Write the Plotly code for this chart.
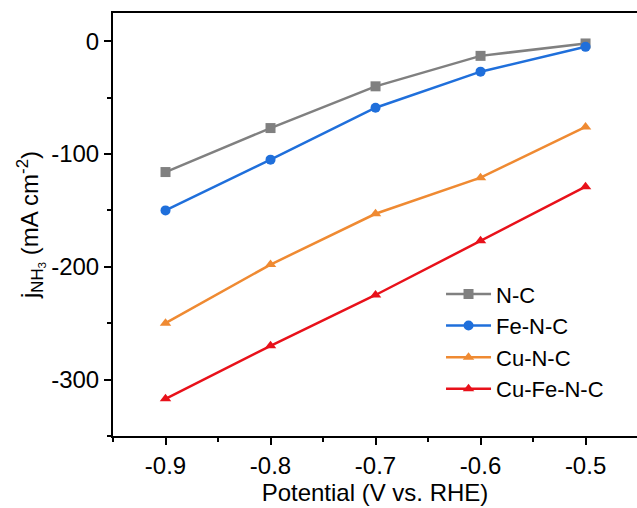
import plotly.graph_objects as go

# Applied potential (V vs. RHE)
potential = [-0.9, -0.8, -0.7, -0.6, -0.5]

# Ammonia partial current density (mA cm^-2) per catalyst
j_nc = [-116, -77, -40, -13, -2]
j_fenc = [-150, -105, -59, -27, -5]
j_cunc = [-250, -198, -153, -121, -76]
j_cufenc = [-317, -270, -225, -177, -129]

series = [
    ("N-C", j_nc, "#808080", "square"),
    ("Fe-N-C", j_fenc, "#1f6fdb", "circle"),
    ("Cu-N-C", j_cunc, "#ef8a32", "triangle-up"),
    ("Cu-Fe-N-C", j_cufenc, "#e8111a", "triangle-up"),
]

FONT = "Liberation Sans, Arial, sans-serif"

fig = go.Figure()
for name, vals, color, sym in series:
    fig.add_trace(go.Scatter(
        x=potential, y=vals, name=name, mode="lines+markers",
        line=dict(color=color, width=2.5),
        marker=dict(symbol=sym, size=10, color=color),
    ))

fig.update_layout(
    width=637, height=508,
    margin=dict(l=113, r=0, t=13, b=72),
    paper_bgcolor="white", plot_bgcolor="white",
    font=dict(family=FONT, size=24, color="black"),
    showlegend=True,
    legend=dict(
        x=0.626, y=0.385, xanchor="left", yanchor="top",
        bgcolor="rgba(0,0,0,0)", font=dict(size=22),
        itemwidth=45, tracegroupgap=0,
    ),
)

fig.update_xaxes(
    range=[-0.95, -0.451], tickvals=[-0.9, -0.8, -0.7, -0.6, -0.5],
    ticktext=["-0.9", "-0.8", "-0.7", "-0.6", "-0.5"],
    showline=True, linewidth=2, linecolor="black", mirror=True,
    ticks="outside", ticklen=7, tickwidth=2, tickcolor="black",
    minor=dict(tickvals=[-0.95, -0.85, -0.75, -0.65, -0.55, -0.45],
               ticks="outside", ticklen=4, tickwidth=2, tickcolor="black"),
    showgrid=False, zeroline=False,
    title=dict(text="Potential (V vs. RHE)", font=dict(size=24), standoff=2),
)

fig.update_yaxes(
    range=[-350, 25], tickvals=[0, -100, -200, -300],
    ticktext=["0", "-100", "-200", "-300"],
    showline=True, linewidth=2, linecolor="black", mirror=False,
    ticks="outside", ticklen=7, tickwidth=2, tickcolor="black",
    minor=dict(tickvals=[-50, -150, -250, -350],
               ticks="outside", ticklen=4, tickwidth=2, tickcolor="black"),
    showgrid=False, zeroline=False,
    title=dict(text="j<sub>NH<sub>3</sub></sub> (mA cm<sup>-2</sup>)",
               font=dict(size=24), standoff=6),
)

fig.write_html("out.html")
